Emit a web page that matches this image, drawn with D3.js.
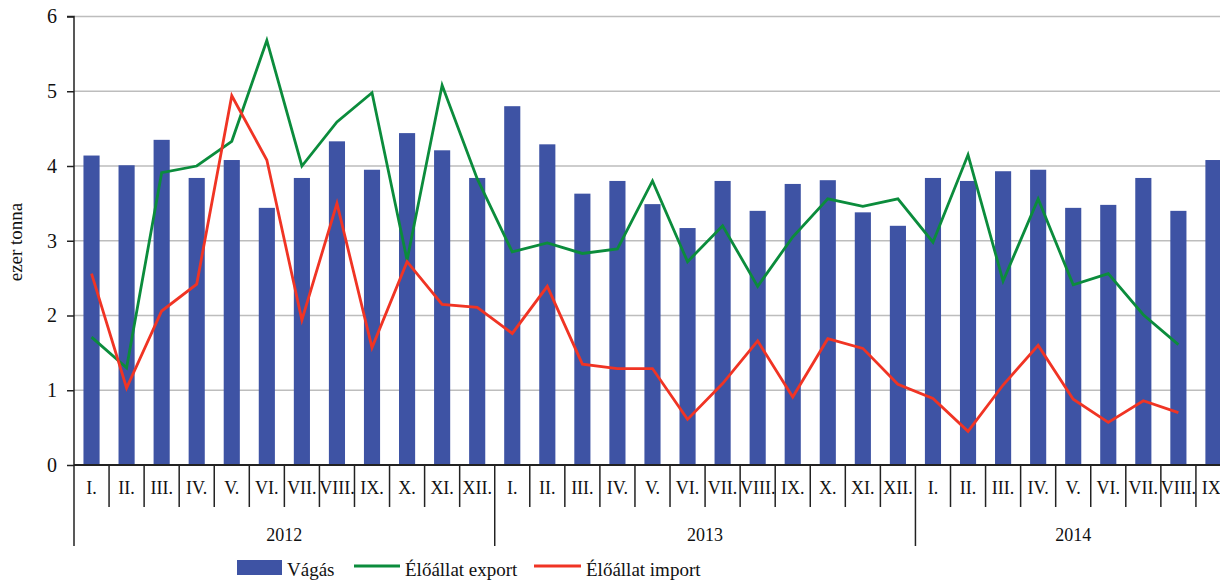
<!DOCTYPE html>
<html><head><meta charset="utf-8">
<script src="https://cdn.jsdelivr.net/npm/d3@7"></script>
<style>body{margin:0;background:#fff}svg{display:block}text{font-family:"Liberation Serif","DejaVu Serif",serif}</style>
</head><body><svg id="c" width="1220" height="581"></svg>
<script>
const years = ["2012","2013","2014"];
const monthsPerYear = [12,12,9];
const monthLabels = ["I.","II.","III.","IV.","V.","VI.","VII.","VIII.","IX.","X.","XI.","XII."];
const yTicks = [0,1,2,3,4,5,6];
const vagas = [4.14,4.01,4.35,3.84,4.08,3.44,3.84,4.33,3.95,4.44,4.21,3.84,
               4.80,4.29,3.63,3.80,3.49,3.17,3.80,3.40,3.76,3.81,3.38,3.20,
               3.84,3.80,3.93,3.95,3.44,3.48,3.84,3.40,4.08];
const exportVals = [1.71,1.30,3.91,4.00,4.33,5.68,4.00,4.59,4.98,2.74,5.08,3.83,
                    2.85,2.97,2.83,2.89,3.80,2.72,3.20,2.39,3.05,3.56,3.46,3.56,
                    2.98,4.15,2.46,3.56,2.41,2.56,2.01,1.61,null];
const importVals = [2.56,1.03,2.06,2.42,4.94,4.08,1.94,3.50,1.57,2.72,2.15,2.11,
                    1.76,2.39,1.35,1.29,1.29,0.61,1.09,1.66,0.91,1.69,1.56,1.08,
                    0.89,0.45,1.07,1.60,0.88,0.57,0.86,0.70,null];
const seriesNames = ["Vágás","Élőállat export","Élőállat import"];

const cats = [];
years.forEach((y,i)=>{ for(let m=0;m<monthsPerYear[i];m++) cats.push({id:y+"-"+m, year:y, label:monthLabels[m]}); });

const FF = "Liberation Serif";
const svg = d3.select("#c");
const x0 = 74, y0 = 465, yTop = 16.5, step = 35.06;
const x1 = x0 + step*cats.length;
const x = d3.scaleBand().domain(cats.map(c=>c.id)).range([x0,x1]).padding(0);
const y = d3.scaleLinear().domain([0,6]).range([y0,yTop]);
const bw = x.bandwidth(), barW = bw*0.46;

const colors = {bar:"#3e53a4", exp:"#0b8c3c", imp:"#f03424", grid:"#bdbdbd", axis:"#222"};

// gridlines
svg.append("g").selectAll("line").data(yTicks.filter(t=>t>0)).join("line")
  .attr("x1",x0).attr("x2",x1).attr("y1",d=>y(d)).attr("y2",d=>y(d))
  .attr("stroke",colors.grid).attr("stroke-width",1.5);

// bars
svg.append("g").selectAll("rect").data(cats).join("rect")
  .attr("x",(c)=>x(c.id)+(bw-barW)/2).attr("width",barW)
  .attr("y",(c,i)=>y(vagas[i])).attr("height",(c,i)=>y0-y(vagas[i]))
  .attr("fill",colors.bar);

// lines
function drawLine(vals,color){
  const line = d3.line().defined(d=>d.v!=null).x(d=>x(d.c.id)+bw/2).y(d=>y(d.v));
  svg.append("path").datum(cats.map((c,i)=>({c,v:vals[i]})))
    .attr("d",line).attr("fill","none").attr("stroke",color).attr("stroke-width",2.8).attr("stroke-linejoin","miter");
}
drawLine(exportVals,colors.exp);
drawLine(importVals,colors.imp);

// y axis
const yAxis = d3.axisLeft(y).tickValues(yTicks).tickSize(7).tickFormat(d3.format("d"));
const gy = svg.append("g").attr("transform",`translate(${x0},0)`).call(yAxis).attr("font-family",FF);
gy.select(".domain").attr("stroke",colors.axis).attr("stroke-width",1.5).attr("d",`M-7,${yTop}H0V${y0}`);
gy.selectAll(".tick line").attr("stroke",colors.axis).attr("stroke-width",1.5);
gy.selectAll(".tick text").attr("font-size",20).attr("fill","#111").attr("x",-17).attr("font-family",FF);

// x axis baseline
svg.append("line").attr("x1",x0).attr("x2",x1).attr("y1",y0).attr("y2",y0).attr("stroke",colors.axis).attr("stroke-width",1.8);

// month boundary ticks
const bounds = cats.map((c,i)=>i).concat([cats.length]);
let idx=0; const yearStarts=[];
monthsPerYear.forEach(n=>{yearStarts.push(idx); idx+=n;}); yearStarts.push(cats.length);
svg.append("g").selectAll("line").data(bounds).join("line")
  .attr("x1",i=>x0+i*bw).attr("x2",i=>x0+i*bw)
  .attr("y1",y0).attr("y2",i=>yearStarts.includes(i)?546:507)
  .attr("stroke",colors.axis).attr("stroke-width",1.5);

// month labels
svg.append("g").selectAll("text").data(cats).join("text")
  .attr("x",c=>x(c.id)+bw/2).attr("y",494).attr("text-anchor","middle").attr("font-family",FF)
  .attr("font-size",18).attr("fill","#111").text(c=>c.label);

// year labels
svg.append("g").selectAll("text").data(years).join("text")
  .attr("x",(yr,i)=>{const a=x0+yearStarts[i]*bw, b=x0+yearStarts[i+1]*bw; return (a+Math.min(b, a+12*bw))/2;})
  .attr("y",541).attr("text-anchor","middle").attr("font-family",FF).attr("font-size",18).attr("fill","#111").text(d=>d);

// y title
svg.append("text").attr("transform","translate(22,242) rotate(-90)").attr("text-anchor","middle").attr("font-family",FF)
  .attr("font-size",19).attr("fill","#111").text("ezer tonna");

// legend
const lg = svg.append("g").attr("font-family",FF).attr("font-size",19).attr("fill","#111");
lg.append("rect").attr("x",237).attr("y",560).attr("width",45).attr("height",15).attr("fill",colors.bar);
lg.append("text").attr("x",287).attr("y",576).attr("font-family",FF).text(seriesNames[0]);
lg.append("line").attr("x1",354).attr("x2",400).attr("y1",566).attr("y2",566).attr("stroke",colors.exp).attr("stroke-width",2.8);
lg.append("text").attr("x",405).attr("y",576).attr("font-family",FF).text(seriesNames[1]);
lg.append("line").attr("x1",534).attr("x2",581).attr("y1",566).attr("y2",566).attr("stroke",colors.imp).attr("stroke-width",2.8);
lg.append("text").attr("x",586).attr("y",576).attr("font-family",FF).text(seriesNames[2]);
</script></body></html>
